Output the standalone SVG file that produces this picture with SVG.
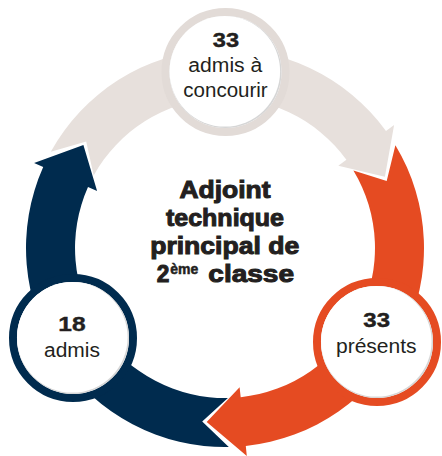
<svg xmlns="http://www.w3.org/2000/svg" width="442" height="456" viewBox="0 0 442 456">
  <style>
    .gray { fill: #E7E0DC; }
    .orange { fill: #E54B22; }
    .navy { fill: #002B4E; }
    .ring { fill: #ffffff; stroke-width: 8; }
    .shade { fill: #d6d6d6; }
    .inner { fill: #ffffff; }
    .title { font-family: "Liberation Sans", Arial, sans-serif; font-weight: bold; font-size: 23.5px; fill: #231f20; stroke: #231f20; stroke-width: 1; text-anchor: middle; }
    .num { font-family: "Liberation Sans", Arial, sans-serif; font-weight: bold; font-size: 21px; fill: #231f20; stroke: #231f20; stroke-width: 0.4; text-anchor: middle; }
    .lbl { font-family: "Liberation Sans", Arial, sans-serif; font-size: 19.5px; fill: #231f20; text-anchor: middle; }
  </style>

  <g id="connectors">
    <path id="arrow-gray" class="gray" d="M50.8,151.8 A199,199 0 0 1 386.0,131.0 L394.1,125.1 L384.9,176.8 L338.3,165.7 L346.4,159.8 A150,150 0 0 0 93.7,175.5 L86.2,141.5 Z"/>
    <path id="arrow-orange" class="orange" d="M395.4,145.2 A199,199 0 0 1 245.8,445.9 L246.8,455.9 L206.7,422.0 L239.6,387.2 L240.7,397.2 A150,150 0 0 0 353.4,170.5 L386.7,181.0 Z"/>
    <path id="arrow-navy" class="navy" d="M228.8,447.0 A199,199 0 0 1 43.2,167.1 L34.1,163.0 L83.4,145.1 L97.1,191.1 L88.0,187.0 A150,150 0 0 0 227.9,398.0 L202.2,421.5 Z"/>
  </g>

  <g id="node-admis-concourir">
    <circle class="ring" cx="225.5" cy="72" r="60" stroke="#E2DBD7"/>
    <circle class="shade" cx="225.5" cy="72" r="56"/>
    <circle class="inner" cx="224.8" cy="71.3" r="55.3"/>
    <text class="num" x="226" y="46.7" textLength="26.3" lengthAdjust="spacingAndGlyphs">33</text>
    <text class="lbl" x="225.3" y="72.3" textLength="74" lengthAdjust="spacingAndGlyphs">admis à</text>
    <text class="lbl" x="225.5" y="97.3" textLength="84.4" lengthAdjust="spacingAndGlyphs">concourir</text>
  </g>

  <g id="node-presents">
    <circle class="ring" cx="377" cy="342" r="60" stroke="#E54B22"/>
    <circle class="shade" cx="377" cy="342" r="56"/>
    <circle class="inner" cx="376.3" cy="341.3" r="55.3"/>
    <text class="num" x="376.7" y="326.7" textLength="26.7" lengthAdjust="spacingAndGlyphs">33</text>
    <text class="lbl" x="376.3" y="352.7" textLength="80.7" lengthAdjust="spacingAndGlyphs">présents</text>
  </g>

  <g id="node-admis">
    <circle class="ring" cx="73" cy="338" r="60" stroke="#002B4E"/>
    <circle class="shade" cx="73" cy="338" r="56"/>
    <circle class="inner" cx="72.3" cy="337.3" r="55.3"/>
    <text class="num" x="72" y="331" textLength="27.3" lengthAdjust="spacingAndGlyphs">18</text>
    <text class="lbl" x="72" y="356.7" textLength="56" lengthAdjust="spacingAndGlyphs">admis</text>
  </g>

  <g id="node-center">
    <text class="title" x="225" y="198" textLength="91" lengthAdjust="spacingAndGlyphs">Adjoint</text>
    <text class="title" x="225" y="226" textLength="118" lengthAdjust="spacingAndGlyphs">technique</text>
    <text class="title" x="224.7" y="253.5" textLength="149" lengthAdjust="spacingAndGlyphs">principal de</text>
    <text class="title" x="163" y="281.7" textLength="12.6" lengthAdjust="spacingAndGlyphs">2</text>
    <text class="title" x="184.2" y="274" style="font-size:14px;stroke-width:0.5" textLength="28" lengthAdjust="spacingAndGlyphs">ème</text>
    <text class="title" x="251.2" y="281.7" textLength="85.7" lengthAdjust="spacingAndGlyphs">classe</text>
  </g>
</svg>
